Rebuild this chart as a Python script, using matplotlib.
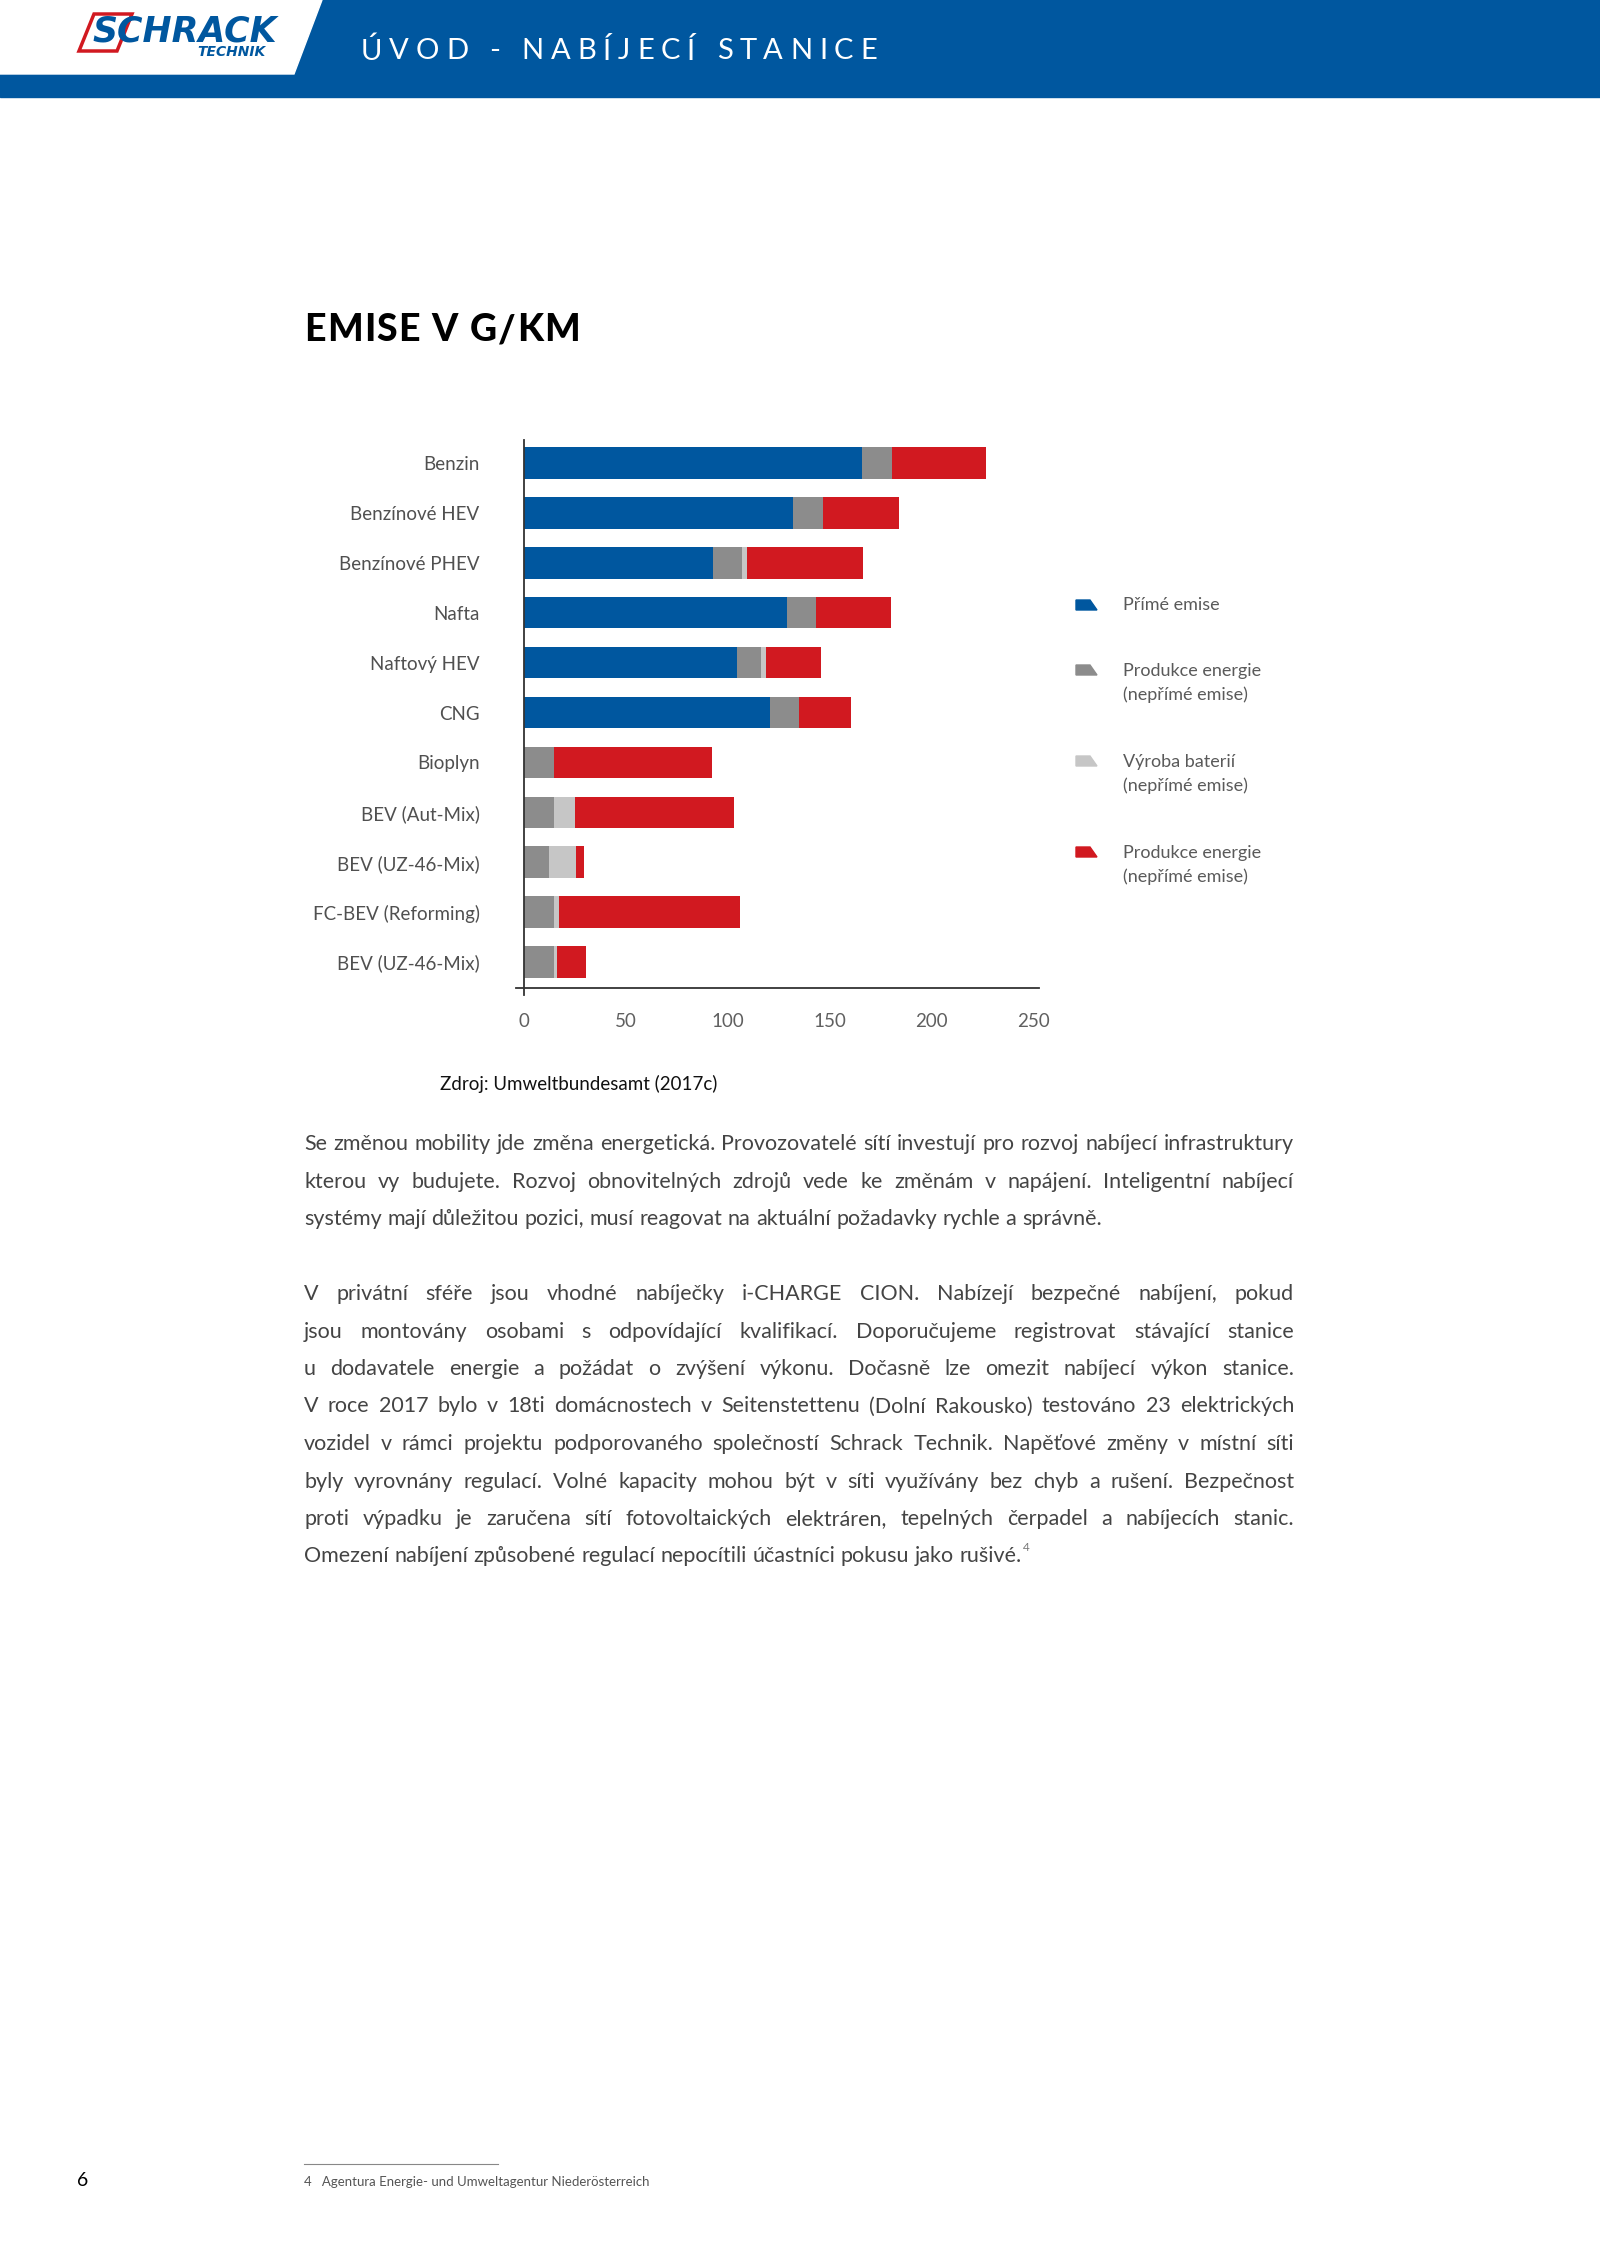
import matplotlib
matplotlib.use('Agg')
import matplotlib.pyplot as plt
from matplotlib.patches import Polygon, Rectangle
import numpy as np

plt.rcParams['font.family'] = ['Lato', 'DejaVu Sans']

categories = ['Benzin', 'Benzínové HEV', 'Benzínové PHEV', 'Nafta', 'Naftový HEV', 'CNG',
              'Bioplyn', 'BEV (Aut-Mix)', 'BEV (UZ-46-Mix)', 'FC-BEV (Reforming)', 'BEV (UZ-46-Mix)']
prime = [166, 132, 93, 129, 104.5, 121, 0, 0, 0, 0, 0]
energy = [14.5, 15, 14, 14.5, 12, 14, 14.5, 14.5, 12.5, 14.5, 14.5]
battery = [0, 0, 2.5, 0, 2.5, 0, 0, 10.5, 13, 2.5, 1.5]
energy2 = [46.5, 37, 57, 36.5, 27, 25.5, 78, 78, 4, 89, 14.5]
series_labels = ['Přímé emise', 'Produkce energie\n(nepřímé emise)',
                 'Výroba baterií\n(nepřímé emise)', 'Produkce energie\n(nepřímé emise)']
colors = ['#00579f', '#8c8c8c', '#c6c6c6', '#d11920']
xticks = [0, 50, 100, 150, 200, 250]

p1 = ["Se změnou mobility jde změna energetická. Provozovatelé sítí investují pro rozvoj nabíjecí infrastruktury",
      "kterou vy budujete. Rozvoj obnovitelných zdrojů vede ke změnám v napájení. Inteligentní nabíjecí",
      "systémy mají důležitou pozici, musí reagovat na aktuální požadavky rychle a správně."]
p2 = ["V privátní sféře jsou vhodné nabíječky i-CHARGE CION. Nabízejí bezpečné nabíjení, pokud",
      "jsou montovány osobami s odpovídající kvalifikací. Doporučujeme registrovat stávající stanice",
      "u dodavatele energie a požádat o zvýšení výkonu. Dočasně lze omezit nabíjecí výkon stanice.",
      "V roce 2017 bylo v 18ti domácnostech v Seitenstettenu (Dolní Rakousko) testováno 23 elektrických",
      "vozidel v rámci projektu podporovaného společností Schrack Technik. Napěťové změny v místní síti",
      "byly vyrovnány regulací. Volné kapacity mohou být v síti využívány bez chyb a rušení. Bezpečnost",
      "proti výpadku je zaručena sítí fotovoltaických elektráren, tepelných čerpadel a nabíjecích stanic.",
      "Omezení nabíjení způsobené regulací nepocítili účastníci pokusu jako rušivé."]

W, H = 1600, 2263
fig = plt.figure(figsize=(W / 100, H / 100), dpi=100)
fig.patch.set_facecolor('white')
r = fig.canvas.get_renderer()


def fx(x):
    return x / W


def fy(y):
    return 1 - y / H


def width_of(s, **kw):
    t = fig.text(0, 0, s, **kw)
    w = t.get_window_extent(r).width
    t.remove()
    return w


def spaced(s, xa, xb, yy, **kw):
    # letters spread evenly between xa and xb
    cw = [width_of(c, **kw) for c in s]
    track = (xb - xa - sum(cw)) / (len(s) - 1)
    xx = xa
    for c, w in zip(s, cw):
        fig.text(fx(xx), fy(yy), c, va='center', ha='left', **kw)
        xx += w + track


# header
fig.patches.append(Rectangle((0, fy(97)), 1, 97 / H, transform=fig.transFigure,
                             color='#00579f', zorder=0))
fig.patches.append(Polygon([(0, fy(0)), (fx(322), fy(0)), (fx(294), fy(74)), (0, fy(74))],
                           closed=True, transform=fig.transFigure, color='white', zorder=1))
fig.patches.append(Polygon([(fx(94), fy(14)), (fx(132), fy(14)), (fx(117), fy(51)), (fx(79), fy(51))],
                           closed=True, transform=fig.transFigure, facecolor='white',
                           edgecolor='#d11920', lw=2.5, zorder=2))
fig.text(fx(92), fy(31), 'SCHRACK', color='#00579f', fontsize=25, fontweight='heavy',
         style='italic', va='center', ha='left', zorder=3, family=['DejaVu Sans'])
fig.text(fx(266), fy(52), 'TECHNIK', color='#00579f', fontsize=10, fontweight='bold',
         style='italic', va='center', ha='right', zorder=3, family=['DejaVu Sans'])

spaced('ÚVOD - NABÍJECÍ STANICE', 361, 877, 51, fontsize=21, color='white')
spaced('EMISE V G/KM', 304, 580, 330, fontsize=27, fontweight='black', color='black')

# chart
ax = fig.add_axes([fx(524), fy(995), (1039 - 524) / W, (995 - 440) / H])
y = np.arange(len(categories))
left = np.zeros(len(categories))
for vals, col in zip([prime, energy, battery, energy2], colors):
    ax.barh(y, vals, left=left, height=0.63, color=col, linewidth=0)
    left += np.array(vals)
ax.set_xlim(0, 252.9)
ax.set_ylim(10.661, -0.461)
ax.plot([-4, 252.9], [10.52, 10.52], color='#333333', lw=1.3, clip_on=False)
for s in ['top', 'right', 'bottom']:
    ax.spines[s].set_visible(False)
ax.spines['left'].set_color('#333333')
ax.spines['left'].set_linewidth(1.3)
ax.set_yticks(y)
ax.set_yticklabels(categories)
ax.set_xticks(xticks)
ax.set_xticklabels([str(v) for v in xticks])
ax.tick_params(axis='y', length=0, pad=32, labelsize=13.5, labelcolor='#505050')
ax.tick_params(axis='x', length=0, pad=13, labelsize=13.5, labelcolor='#606060')

# legend
marker_y = [605, 670, 761, 852]
text_y = [605, 683, 774, 865]
for my, ty, col, lab in zip(marker_y, text_y, colors, series_labels):
    fig.patches.append(Polygon([(fx(1076), fy(my - 5)), (fx(1090), fy(my - 5)),
                                (fx(1097), fy(my + 5)), (fx(1076), fy(my + 5))],
                               closed=True, transform=fig.transFigure, color=col))
    fig.text(fx(1123), fy(ty), lab, fontsize=13, color='#5a5a5a',
             va='center', ha='left', linespacing=1.6)

fig.text(fx(440), fy(1084), 'Zdroj: Umweltbundesamt (2017c)', fontsize=13.5,
         color='#111111', va='center', ha='left')

# body text, justified
bkw = dict(color='#444444', va='center', ha='left')
x0, x1 = 304, 1294
fs = 10 * (x1 - x0 - 12) / width_of(p1[0], fontsize=10, **bkw)
bkw['fontsize'] = fs


def put_line(line, yy, last):
    words = line.split()
    ws = [width_of(w, **bkw) for w in words]
    if last:
        gap = width_of('a b', **bkw) - width_of('ab', **bkw)
    else:
        gap = (x1 - x0 - sum(ws)) / (len(words) - 1)
    xx = x0
    for w, wd in zip(words, ws):
        fig.text(fx(xx), fy(yy), w, **bkw)
        xx += wd + gap
    return xx - gap


ys1 = [1144, 1182, 1219]
for i, (line, yy) in enumerate(zip(p1, ys1)):
    put_line(line, yy, i == len(p1) - 1)
ys2 = [1294 + 37.5 * i for i in range(len(p2))]
for i, (line, yy) in enumerate(zip(p2, ys2)):
    end = put_line(line, yy, i == len(p2) - 1)
fig.text(fx(end + 1), fy(ys2[-1] - 9), '4', fontsize=fs * 0.55, color='#777777',
         va='center', ha='left')

# footer
fig.add_artist(plt.Line2D([fx(304), fx(498)], [fy(2164), fy(2164)], color='#888888', lw=0.8))
fig.text(fx(304), fy(2182), '4   Agentura Energie- und Umweltagentur Niederösterreich',
         fontsize=9.5, color='#555555', va='center', ha='left')
fig.text(fx(77), fy(2180), '6', fontsize=14, color='black', va='center', ha='left')

fig.savefig('out.png', dpi=100)
